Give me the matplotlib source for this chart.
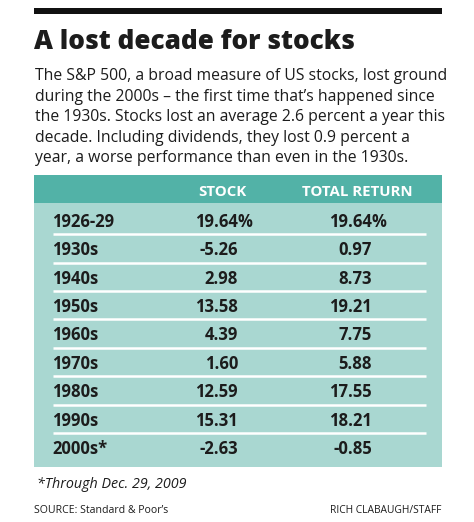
import matplotlib.pyplot as plt
from matplotlib.patches import Rectangle

# table data
periods = ['1926-29', '1930s', '1940s', '1950s', '1960s', '1970s', '1980s', '1990s', '2000s*']
stock = [19.64, -5.26, 2.98, 13.58, 4.39, 1.60, 12.59, 15.31, -2.63]
totalReturn = [19.64, 0.97, 8.73, 19.21, 7.75, 5.88, 17.55, 18.21, -0.85]
headers = ['STOCK', 'TOTAL RETURN']

title = 'A lost decade for stocks'
bodyLines = [
    'The S&P 500, a broad measure of US stocks, lost ground',
    'during the 2000s \u2013 the first time that\u2019s happened since',
    'the 1930s. Stocks lost an average 2.6 percent a year this',
    'decade. Including dividends, they lost 0.9 percent a',
    'year, a worse performance than even in the 1930s.',
]
footnote = '*Through Dec. 29, 2009'
source = 'SOURCE: Standard & Poor\u2019s'
credit = 'RICH CLABAUGH/STAFF'

W, H = 474, 522
plt.rcParams['font.family'] = ['Open Sans', 'DejaVu Sans']
fig = plt.figure(figsize=(W / 100, H / 100), dpi=100)
ax = fig.add_axes([0, 0, 1, 1])
ax.set_xlim(0, W)
ax.set_ylim(H, 0)
ax.axis('off')

dark = '#1c1c1c'
headTeal = '#52b2a7'
bodyTeal = '#a9d7d1'

# top black rule
ax.add_patch(Rectangle((34, 7.5), 408, 6, color='#111111', lw=0))

# title and intro text
ax.text(34, 49, title, fontsize=18.8, fontweight='heavy', color=dark, va='baseline')
for i, line in enumerate(bodyLines):
    ax.text(35, 80 + i * 20.6, line, fontsize=11.3, color=dark, va='baseline')

# table background
ax.add_patch(Rectangle((34, 175), 408, 28, color=headTeal, lw=0))
ax.add_patch(Rectangle((34, 203), 408, 264, color=bodyTeal, lw=0))
ax.text(222, 196, headers[0], fontsize=10.8, fontweight='bold', color='white', ha='center', va='baseline')
ax.text(357, 196, headers[1], fontsize=10.8, fontweight='bold', color='white', ha='center', va='baseline')

rowStep = 28.4
for i in range(len(periods)):
    yb = 226.7 + i * rowStep
    ax.text(52, yb, periods[i], fontsize=12, fontweight='bold', color=dark, va='baseline')
    ax.text(238, yb, '%.2f' % stock[i], fontsize=12, fontweight='bold', color=dark, ha='right', va='baseline')
    ax.text(372, yb, '%.2f' % totalReturn[i], fontsize=12, fontweight='bold', color=dark, ha='right', va='baseline')
    if i == 0:
        ax.text(238, yb, '%', fontsize=12, fontweight='bold', color=dark, va='baseline')
        ax.text(372, yb, '%', fontsize=12, fontweight='bold', color=dark, va='baseline')
    if i < len(periods) - 1:
        ax.plot([53, 426], [yb + 7.5, yb + 7.5], color='white', lw=1.8, solid_capstyle='butt')

# footer
ax.text(37, 488, footnote, fontsize=10.3, style='italic', color=dark, va='baseline')
ax.text(34, 513, source, fontsize=7.6, color=dark, va='baseline')
ax.text(441, 513, credit, fontsize=7.4, color=dark, ha='right', va='baseline')

fig.savefig('out.png', dpi=100, facecolor='white')
